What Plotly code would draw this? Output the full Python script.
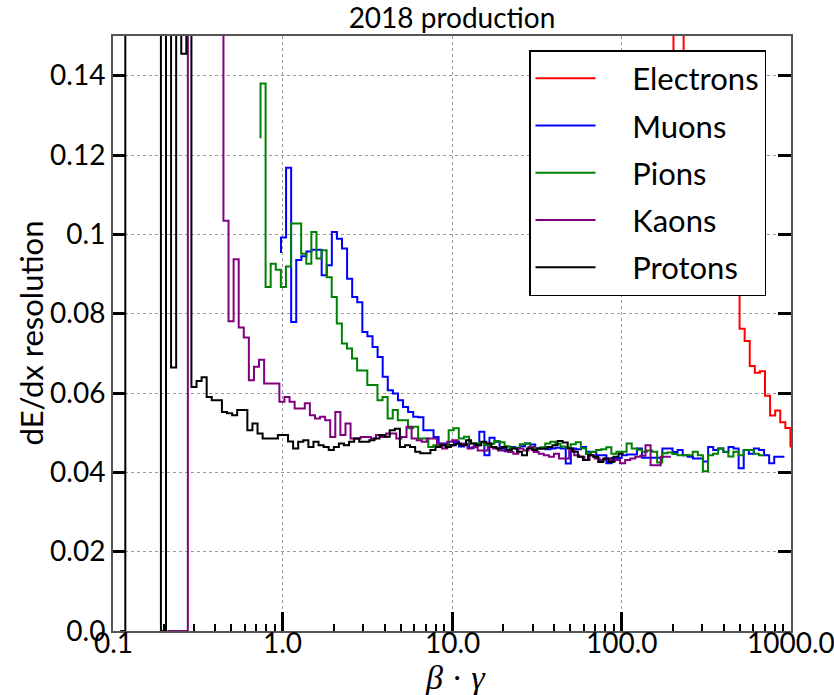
import numpy as np
import plotly.graph_objects as go

# ---------------- data ----------------
# momentum binning (GeV/c): 100 log-spaced bins from 0.1 to 100 GeV/c;
# beta*gamma of each bin centre = p / m for each particle species
p_low, p_high, n_bins = 0.1, 100.0, 100

masses = {
    "Electrons": 0.000511,
    "Muons": 0.10566,
    "Pions": 0.13957,
    "Kaons": 0.49368,
    "Protons": 0.93827,
}

colors = {
    "Electrons": "#ff0000",
    "Muons": "#0000ff",
    "Pions": "#008000",
    "Kaons": "#800080",
    "Protons": "#000000",
}

# dE/dx resolution per momentum bin (values above 0.15 lie off the top of the chart)
electrons_res = [0.12, 0.20, 0.20, 0.14, 0.13, 0.125, 0.12, 0.115, 0.11, 0.105, 0.10, 0.095,
                 0.092, 0.088, 0.0762, 0.0731, 0.0668, 0.0651, 0.0655, 0.0593, 0.0543, 0.0556,
                 0.0526, 0.0512, 0.0465]

muons_res = [0.0953, 0.0992, 0.1168, 0.0779, 0.0935, 0.0945, 0.0957, 0.0961, 0.0961, 0.0897,
             0.0922, 0.1006, 0.0989, 0.0964, 0.0888, 0.0842, 0.0829, 0.0754, 0.0743, 0.0716,
             0.0691, 0.0641, 0.0607, 0.0599, 0.0582, 0.0565, 0.0552, 0.0540, 0.0539, 0.0506,
             0.0506, 0.0489, 0.0473,
             0.0473, 0.0468, 0.0478, 0.0465, 0.0472, 0.0462, 0.0468,
             0.0502, 0.0443, 0.0487, 0.0477, 0.0460, 0.0453,
             0.0464, 0.0462, 0.0466, 0.0473, 0.0470, 0.0460, 0.0460, 0.0458, 0.0460, 0.0462,
             0.0460, 0.0422, 0.0460, 0.0458, 0.0464, 0.0452, 0.0452, 0.0443, 0.0443, 0.0423,
             0.0436,
             0.0436, 0.0443, 0.0445, 0.0445, 0.0460, 0.0437, 0.0437, 0.0437, 0.0437, 0.0460,
             0.0460, 0.0451, 0.0456, 0.0443, 0.0439, 0.0435, 0.0435, 0.0427, 0.0464, 0.0456,
             0.0460, 0.0451, 0.0464, 0.0460, 0.0410, 0.0456, 0.0447, 0.0460, 0.0456, 0.0443,
             0.0423, 0.0439, 0.0439]

pions_res = [0.1242, 0.1380, 0.0867, 0.0926, 0.0911, 0.0867, 0.0919, 0.1027, 0.1027, 0.0951,
             0.0926, 0.1006, 0.0939, 0.0960, 0.0892, 0.0842, 0.0775, 0.0725, 0.0712, 0.0687,
             0.0657, 0.0657, 0.0620, 0.0620, 0.0582, 0.0590, 0.0536, 0.0557, 0.0531, 0.0531,
             0.0511, 0.0515, 0.0485, 0.0485, 0.0464, 0.0468, 0.0468, 0.0468, 0.0506, 0.0511,
             0.0485, 0.0490, 0.0473, 0.0473,
             0.0475, 0.0468, 0.0472, 0.0479, 0.0476,
             0.0466, 0.0462, 0.0461, 0.0471, 0.0473, 0.0463, 0.0460,
             0.0463, 0.0473, 0.0477, 0.0472, 0.0465, 0.0462, 0.0471, 0.0476, 0.0461,
             0.0446, 0.0451, 0.0456, 0.0458, 0.0463, 0.0447, 0.0452,
             0.0452, 0.0473, 0.0460, 0.0457, 0.0452, 0.0455, 0.0452, 0.0425, 0.0448, 0.0450,
             0.0446, 0.0443, 0.0443, 0.0443, 0.0452, 0.0443, 0.0403, 0.0443, 0.0447, 0.0460,
             0.0452, 0.0440, 0.0452, 0.0443, 0.0456, 0.0456, 0.0447, 0.0443]

kaons_res = [0.0, 0.0, 0.0, 0.0, 0.0,
             0.20, 0.20, 0.20, 0.20, 0.20, 0.20, 0.20,
             0.1034, 0.0781, 0.0937, 0.0765, 0.0740, 0.0632, 0.0666, 0.0684, 0.0624, 0.0624,
             0.0624, 0.0578, 0.0590, 0.0578,
             0.0561, 0.0561, 0.0574, 0.0544, 0.0536, 0.0540, 0.0531, 0.0489, 0.0552, 0.0494,
             0.0523, 0.0485, 0.0485, 0.0489, 0.0489, 0.0485, 0.0494, 0.0489, 0.0498, 0.0498,
             0.0485, 0.0489, 0.0515, 0.0485, 0.0481, 0.0477, 0.0485, 0.0485, 0.0472, 0.0460,
             0.0477,
             0.0481, 0.0472, 0.0472, 0.0460, 0.0464, 0.0455, 0.0455, 0.0464, 0.0460, 0.0455,
             0.0455, 0.0451, 0.0447, 0.0460, 0.0455, 0.0464, 0.0451, 0.0447, 0.0443, 0.0439,
             0.0447, 0.0435, 0.0435, 0.0455, 0.0443, 0.0439, 0.0431, 0.0443,
             0.0435, 0.0431, 0.0435, 0.0427, 0.0431, 0.0423, 0.0431, 0.0435, 0.0439, 0.0442,
             0.0468, 0.0418, 0.0418, 0.0439, 0.0439]

protons_res = [0.0, 0.0, 0.20, 0.20, 0.20, 0.20, 0.20, 0.20, 0.20, 0.0, 0.20, 0.0664, 0.20,
               0.1455, 0.20,
               0.0615, 0.0630, 0.0640, 0.0590, 0.0582, 0.0582, 0.0552, 0.0549, 0.0544, 0.0557,
               0.0557, 0.0506, 0.0523, 0.0498, 0.0485, 0.0485, 0.0485, 0.0494,
               0.0494, 0.0478, 0.0460, 0.0477, 0.0481, 0.0464, 0.0477, 0.0468, 0.0464, 0.0456,
               0.0464, 0.0473, 0.0468, 0.0477, 0.0485, 0.0477, 0.0477, 0.0481, 0.0485, 0.0494,
               0.0490, 0.0506, 0.0510, 0.0464, 0.0468, 0.0464, 0.0452, 0.0448, 0.0448, 0.0456,
               0.0464, 0.0468, 0.0464, 0.0468,
               0.0473, 0.0468, 0.0481, 0.0473, 0.0468, 0.0477, 0.0473, 0.0464, 0.0460, 0.0464,
               0.0456, 0.0460, 0.0452, 0.0443, 0.0460, 0.0456, 0.0460, 0.0460, 0.0464, 0.0468,
               0.0479, 0.0475, 0.0460, 0.0452, 0.0439, 0.0431, 0.0443, 0.0439, 0.0426, 0.0435,
               0.0426, 0.0439, 0.0447]

series = {
    "Electrons": electrons_res,
    "Muons": muons_res,
    "Pions": pions_res,
    "Kaons": kaons_res,
    "Protons": protons_res,
}

x_tickvals = [0.1, 1, 10, 100, 1000]
x_ticktext = ["0.1", "1.0", "10.0", "100.0", "1000.0"]
y_tickvals = [0, 0.02, 0.04, 0.06, 0.08, 0.10, 0.12, 0.14]
y_ticktext = ["0.0", "0.02", "0.04", "0.06", "0.08", "0.1", "0.12", "0.14"]

# ---------------- figure ----------------
p_edges = np.logspace(np.log10(p_low), np.log10(p_high), n_bins + 1)
p_centers = np.sqrt(p_edges[:-1] * p_edges[1:])

FONT = "Lato, Liberation Sans, sans-serif"
NBSP = "\u00a0"

fig = go.Figure()
for name, vals in series.items():
    bg = p_centers[:len(vals)] / masses[name]
    fig.add_trace(go.Scatter(
        x=bg, y=vals, mode="lines", name=NBSP * 4 + name, legendgroup=name,
        line=dict(shape="vh", width=2, color=colors[name]),
    ))

L, R, T, B = 113, 43, 36, 64
W, H = 834, 695
pw, ph = W - L - R, H - T - B

minor_x = [k * 10.0 ** e for e in range(-1, 3) for k in range(2, 10)]

axis_common = dict(
    showline=True, linecolor="#555555", linewidth=2,
    showgrid=True, gridcolor="#9a9a9a", griddash="dot", gridwidth=1,
    zeroline=False, ticks="inside", tickcolor="black", tickwidth=3,
    tickfont=dict(size=28, family=FONT, color="black"),
)

annotations = [
    dict(text="dE/dx resolution", xref="paper", yref="paper",
         x=(30 - L) / pw, y=0.5, textangle=-90, showarrow=False,
         xanchor="center", yanchor="middle", font=dict(size=31, family=FONT)),
    dict(text="<i>β</i> · <i>γ</i>", xref="paper", yref="paper",
         x=(455 - L) / pw, y=(H - B - 677) / ph, showarrow=False,
         xanchor="center", yanchor="middle",
         font=dict(size=34, family="Liberation Serif, DejaVu Serif, serif")),
]
for tv, tt in zip(x_tickvals, x_ticktext):
    annotations.append(dict(
        text=tt, x=np.log10(tv), xref="x", y=(H - B - 642) / ph, yref="paper",
        showarrow=False, xanchor="center", yanchor="middle",
        font=dict(size=28, family=FONT, color="black"),
    ))

fig.update_layout(
    width=W, height=H,
    margin=dict(l=L, r=R, t=T, b=B),
    paper_bgcolor="white", plot_bgcolor="white",
    font=dict(family=FONT, size=28, color="black"),
    title=dict(text="2018 production", x=(L + pw / 2) / W, xanchor="center",
               y=1 - 18 / H, yanchor="middle", font=dict(size=28, family=FONT)),
    xaxis=dict(
        type="log", range=[-1, 3], tickvals=x_tickvals, showticklabels=False,
        ticklen=19, mirror=True,
        minor=dict(ticks="inside", ticklen=7, tickwidth=1.5, tickcolor="black",
                   tickmode="array", tickvals=minor_x, showgrid=False),
        **axis_common,
    ),
    yaxis=dict(
        range=[0, 0.15], tickvals=y_tickvals, ticktext=y_ticktext,
        ticklen=13, mirror="ticks",
        **axis_common,
    ),
    legend=dict(
        x=(529 - L) / pw, y=(H - B - 50) / ph, xanchor="left", yanchor="top",
        bgcolor="white", bordercolor="black", borderwidth=1.5,
        font=dict(size=31, family=FONT), itemwidth=60,
        traceorder="grouped", tracegroupgap=4,
    ),
    annotations=annotations,
)

fig.write_html("out.html")
